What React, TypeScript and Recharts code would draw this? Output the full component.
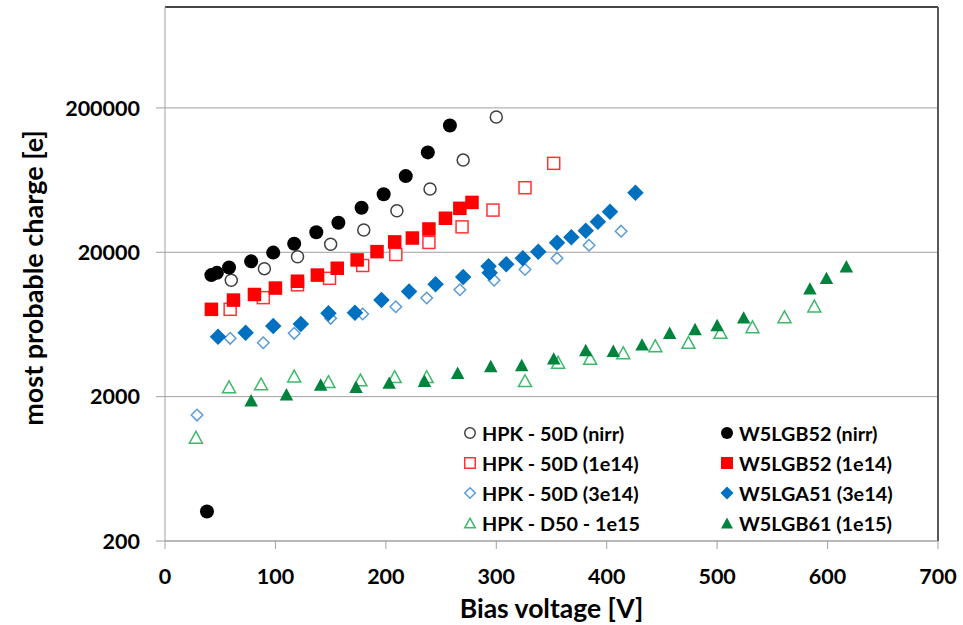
import React from 'react';
import { ScatterChart, Scatter, XAxis, YAxis, CartesianGrid, ReferenceLine } from 'recharts';

// Bias voltage [V] and most probable charge [e] for each sensor / fluence
const hpkNirrV = [60, 90, 120, 150, 180, 210, 240, 270, 300];
const hpkNirrQ = [12800, 15400, 18600, 22700, 28500, 38800, 54800, 87000, 173000];

const w5NirrV = [38, 42, 47, 58, 78, 98, 117, 137, 157, 178, 198, 218, 238, 258];
const w5NirrQ = [320, 13900, 14400, 15700, 17300, 19900, 22900, 27500, 32000, 40700, 50400, 67400, 98400, 151000];

const hpk1e14V = [59, 89, 120, 149, 179, 209, 239, 269, 297, 326, 352];
const hpk1e14Q = [8050, 9700, 11900, 13200, 16200, 19300, 23400, 30000, 39200, 56000, 82600];

const w51e14V = [42, 62, 81, 100, 120, 138, 156, 174, 192, 208, 224, 239, 254, 267, 278];
const w51e14Q = [8050, 9330, 10200, 11300, 12600, 13900, 15500, 17700, 20200, 23600, 25100, 29000, 34400, 40300, 44300];

const hpk3e14V = [29, 59, 89, 117, 150, 179, 209, 237, 267, 298, 326, 355, 384, 413];
const hpk3e14Q = [1490, 5070, 4720, 5490, 6970, 7470, 8390, 9640, 11000, 12800, 15200, 18200, 22400, 28000];

const w53e14V = [48, 73, 98, 123, 148, 172, 196, 221, 245, 270, 293, 294, 309, 324, 338, 355, 368, 381, 392, 403, 426];
const w53e14Q = [5200, 5540, 6170, 6370, 7550, 7620, 9330, 10700, 12000, 13500, 16000, 14400, 16500, 18200, 20200, 23300, 25400, 28200, 32500, 38100, 51600];

const hpk1e15V = [28, 58, 87, 117, 148, 177, 208, 237, 326, 356, 385, 415, 444, 474, 503, 532, 561, 588];
const hpk1e15Q = [1045, 2340, 2450, 2780, 2540, 2610, 2750, 2750, 2580, 3460, 3680, 4030, 4500, 4750, 5570, 6100, 7150, 8480];

const w51e15V = [78, 110, 141, 173, 203, 235, 265, 295, 323, 352, 381, 406, 432, 457, 480, 500, 524, 584, 599, 617];
const w51e15Q = [1890, 2075, 2430, 2340, 2500, 2580, 2930, 3260, 3310, 3680, 4210, 4160, 4600, 5540, 5880, 6270, 7080, 11250, 13300, 16000];

const xTicks = [0, 100, 200, 300, 400, 500, 600, 700];
const yTicks = [200, 2000, 20000, 200000];

const FONT = 'Lato, "Open Sans", Arial, sans-serif';
const AXIS_GRAY = '#a0a0a0';

type Kind = 'circle' | 'square' | 'diamond' | 'triangle';

interface SeriesDef {
  name: string;
  v: number[];
  q: number[];
  kind: Kind;
  filled: boolean;
  color: string;
  size: number;
}

const series: SeriesDef[] = [
  { name: 'HPK - 50D (nirr)', v: hpkNirrV, q: hpkNirrQ, kind: 'circle', filled: false, color: '#404040', size: 13.5 },
  { name: 'W5LGB52 (nirr)', v: w5NirrV, q: w5NirrQ, kind: 'circle', filled: true, color: '#000000', size: 14 },
  { name: 'HPK - 50D (1e14)', v: hpk1e14V, q: hpk1e14Q, kind: 'square', filled: false, color: '#ff3333', size: 13.5 },
  { name: 'W5LGB52 (1e14)', v: w51e14V, q: w51e14Q, kind: 'square', filled: true, color: '#ff0000', size: 13.5 },
  { name: 'HPK - 50D (3e14)', v: hpk3e14V, q: hpk3e14Q, kind: 'diamond', filled: false, color: '#5b9bd5', size: 13 },
  { name: 'W5LGA51 (3e14)', v: w53e14V, q: w53e14Q, kind: 'diamond', filled: true, color: '#0070c0', size: 16.5 },
  { name: 'HPK - D50 - 1e15', v: hpk1e15V, q: hpk1e15Q, kind: 'triangle', filled: false, color: '#3cb96a', size: 14.5 },
  { name: 'W5LGB61 (1e15)', v: w51e15V, q: w51e15Q, kind: 'triangle', filled: true, color: '#00843d', size: 13.5 },
];

function Marker({ kind, filled, color, size, cx, cy }: { kind: Kind; filled: boolean; color: string; size: number; cx: number; cy: number }) {
  const h = size / 2;
  const fill = filled ? color : '#ffffff';
  const stroke = color;
  const sw = filled ? 0 : 1.5;
  if (kind === 'circle') {
    return <circle cx={cx} cy={cy} r={h - sw / 2} fill={fill} stroke={stroke} strokeWidth={sw} />;
  }
  if (kind === 'square') {
    const s = size - sw;
    return <rect x={cx - s / 2} y={cy - s / 2} width={s} height={s} fill={fill} stroke={stroke} strokeWidth={sw} />;
  }
  if (kind === 'diamond') {
    const d = h - sw / 2;
    return <polygon points={`${cx},${cy - d} ${cx + d},${cy} ${cx},${cy + d} ${cx - d},${cy}`} fill={fill} stroke={stroke} strokeWidth={sw} />;
  }
  const w = h - sw / 2;
  const t = h * 0.92 - sw / 2;
  return <polygon points={`${cx},${cy - t} ${cx + w},${cy + t} ${cx - w},${cy + t}`} fill={fill} stroke={stroke} strokeWidth={sw} strokeLinejoin="miter" />;
}

function YTitle(props: any) {
  const vb = props.viewBox || { x: 0, y: 7, width: 165, height: 534 };
  const cx = 32;
  const cy = vb.y + vb.height / 2 + 4;
  return (
    <text
      x={cx}
      y={cy}
      transform={`rotate(-90, ${cx}, ${cy})`}
      textAnchor="middle"
      dominantBaseline="central"
      fontFamily={FONT}
      fontWeight={700}
      fontSize={27}
      fill="#000"
    >
      most probable charge [e]
    </text>
  );
}

function XTitle(props: any) {
  const vb = props.viewBox || { x: 165, y: 541, width: 773, height: 84 };
  return (
    <text x={vb.x + vb.width / 2} y={618} textAnchor="middle" fontFamily={FONT} fontWeight={700} fontSize={26.5} fill="#000">
      Bias voltage [V]
    </text>
  );
}

const legendCols = [
  { markerX: 470, textX: 482 },
  { markerX: 727, textX: 739 },
];
const legendRowY = [433, 463, 493, 523];

function LegendBox() {
  return (
    <svg width={963} height={625} style={{ position: 'absolute', left: 0, top: 0, pointerEvents: 'none' }}>
      {series.map((s, i) => {
        const col = legendCols[i % 2];
        const y = legendRowY[Math.floor(i / 2)];
        return (
          <g key={s.name}>
            <Marker kind={s.kind} filled={s.filled} color={s.color} size={s.kind === 'diamond' && s.filled ? 13 : 12} cx={col.markerX} cy={y} />
            <text x={col.textX} y={y} dominantBaseline="central" fontFamily={FONT} fontWeight={700} fontSize={19.8} fill="#000">
              {s.name}
            </text>
          </g>
        );
      })}
    </svg>
  );
}

export default function App() {
  return (
    <div style={{ position: 'absolute', left: 0, top: 0, width: 963, height: 625, background: '#fff' }}>
      <ScatterChart width={963} height={625} margin={{ top: 7, right: 25, bottom: 0, left: 0 }}>
        <CartesianGrid horizontal vertical={false} stroke={AXIS_GRAY} strokeWidth={1} />
        <XAxis
          type="number"
          dataKey="v"
          domain={[0, 700]}
          ticks={xTicks}
          height={84}
          tickSize={8}
          tickMargin={20}
          stroke={AXIS_GRAY}
          tick={{ fill: '#000', fontFamily: FONT, fontWeight: 700, fontSize: 21.5 }}
          label={<XTitle />}
          allowDataOverflow
        />
        <YAxis
          type="number"
          dataKey="q"
          scale="log"
          domain={[200, 1000000]}
          ticks={yTicks}
          width={165}
          tickSize={9}
          tickMargin={16}
          stroke={AXIS_GRAY}
          tickFormatter={(v: number) => String(v)}
          tick={{ fill: '#000', fontFamily: FONT, fontWeight: 700, fontSize: 21.5 }}
          label={<YTitle />}
          allowDataOverflow
        />
        <ReferenceLine y={1000000} stroke="#1a1a1a" strokeWidth={1.5} ifOverflow="extendDomain" />
        <ReferenceLine x={700} stroke="#595959" strokeWidth={2} ifOverflow="extendDomain" />
        {series.map((s) => (
          <Scatter
            key={s.name}
            name={s.name}
            data={s.v.map((v, i) => ({ v, q: s.q[i] }))}
            isAnimationActive={false}
            shape={(p: any) => <Marker kind={s.kind} filled={s.filled} color={s.color} size={s.size} cx={p.cx} cy={p.cy} />}
          />
        ))}
      </ScatterChart>
      <LegendBox />
    </div>
  );
}
